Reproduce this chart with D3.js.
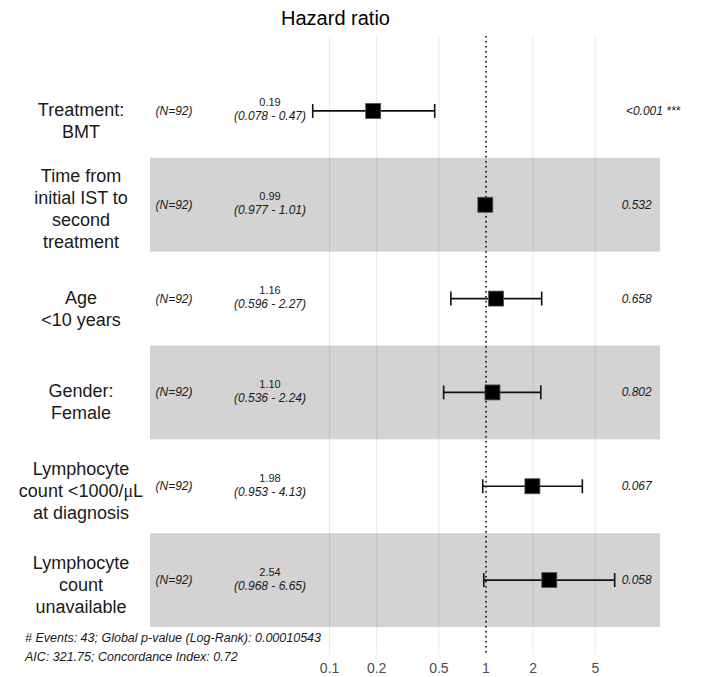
<!DOCTYPE html>
<html>
<head>
<meta charset="utf-8">
<script src="https://cdn.jsdelivr.net/npm/d3@7"></script>
<style>
  body { margin: 0; background: #fff; }
  text { font-family: "Liberation Sans", Arial, sans-serif; }
</style>
</head>
<body>
<svg id="chart" width="701" height="677"></svg>
<script>
// rows of the forest plot, top to bottom
const labels = [
  ["Treatment:", "BMT"],
  ["Time from", "initial IST to", "second", "treatment"],
  ["Age", "<10 years"],
  ["Gender:", "Female"],
  ["Lymphocyte", "count <1000/\u03bcL", "at diagnosis"],
  ["Lymphocyte", "count", "unavailable"]
];
const nObs = [92, 92, 92, 92, 92, 92];
const hr = [0.19, 0.99, 1.16, 1.10, 1.98, 2.54];
const hrText = ["0.19", "0.99", "1.16", "1.10", "1.98", "2.54"];
const ciLow = [0.078, 0.977, 0.596, 0.536, 0.953, 0.968];
const ciHigh = [0.47, 1.01, 2.27, 2.24, 4.13, 6.65];
const ciText = ["(0.078 - 0.47)", "(0.977 - 1.01)", "(0.596 - 2.27)", "(0.536 - 2.24)", "(0.953 - 4.13)", "(0.968 - 6.65)"];
const pLabels = ["<0.001 ***", "0.532 ", "0.658 ", "0.802 ", "0.067 ", "0.058 "];
const ticks = [0.1, 0.2, 0.5, 1, 2, 5];
const footnotes = [
  "# Events: 43; Global p-value (Log-Rank): 0.00010543",
  "AIC: 321.75; Concordance Index: 0.72"
];

const svg = d3.select("#chart");
const rows = d3.range(labels.length);

// log x scale, one decade = ~156.4px, HR 1 at x=486
const x = d3.scaleLog().domain([0.1, 1]).range([329.6, 486]);
const y = d3.scaleBand().domain(rows).range([64, 627]);
const yc = i => y(i) + y.bandwidth() / 2;
const gridTop = 36, gridBottom = 655;

// shaded bands on every other row
svg.selectAll("rect.band")
  .data(rows.filter(i => i % 2 === 1))
  .enter()
    .append("rect")
    .attr("class", "band")
    .attr("x", 150)
    .attr("y", i => y(i))
    .attr("width", 510)
    .attr("height", y.bandwidth())
    .attr("fill", "#d3d3d3");

// vertical grid lines
svg.selectAll("line.grid")
  .data(ticks)
  .enter()
    .append("line")
    .attr("class", "grid")
    .attr("x1", d => x(d)).attr("x2", d => x(d))
    .attr("y1", gridTop).attr("y2", gridBottom)
    .attr("stroke", "rgba(0,0,0,0.09)")
    .attr("stroke-width", 1);

// reference line at HR = 1
svg.append("line")
  .attr("x1", x(1)).attr("x2", x(1))
  .attr("y1", gridTop).attr("y2", gridBottom)
  .attr("stroke", "#000")
  .attr("stroke-width", 1.5)
  .attr("stroke-dasharray", "1.5,3.5");

// x axis tick labels
svg.selectAll("text.tick")
  .data(ticks)
  .enter()
    .append("text")
    .attr("class", "tick")
    .attr("x", d => x(d))
    .attr("y", 673)
    .attr("text-anchor", "middle")
    .attr("font-size", 14)
    .attr("fill", "#4d4d4d")
    .text(d => d);

// title
svg.append("text")
  .attr("x", 335.5).attr("y", 25)
  .attr("text-anchor", "middle")
  .attr("font-size", 20)
  .attr("fill", "#000")
  .text("Hazard ratio");

// row labels, multi line and centred
labels.forEach((lines, i) => {
  const lh = 22;
  const k = lines.length === 2 ? 16 : 10.5;
  const t = svg.append("text")
    .attr("x", 81)
    .attr("text-anchor", "middle")
    .attr("font-size", 18)
    .attr("fill", "#1a1a1a");
  lines.forEach((ln, j) => {
    const ts = t.append("tspan")
      .attr("x", 81)
      .attr("y", yc(i) - (lines.length - 1) * lh / 2 + j * lh + k);
    if (ln.includes("\u03bc")) {
      const parts = ln.split("\u03bc");
      ts.append("tspan").text(parts[0]);
      ts.append("tspan").attr("font-family", "Liberation Serif").text("\u03bc");
      ts.append("tspan").text(parts[1]);
    } else {
      ts.text(ln);
    }
  });
});

// N column
svg.selectAll("text.n")
  .data(rows)
  .enter()
    .append("text")
    .attr("class", "n")
    .attr("x", 174)
    .attr("y", i => yc(i) + 4)
    .attr("text-anchor", "middle")
    .attr("font-size", 12)
    .attr("font-style", "italic")
    .attr("fill", "#1a1a1a")
    .text(i => `(N=${nObs[i]})`);

// estimate + CI text (tightly stacked like the original)
svg.selectAll("text.est")
  .data(rows)
  .enter()
    .append("text")
    .attr("class", "est")
    .attr("x", 270)
    .attr("y", i => yc(i) - 4.5)
    .attr("text-anchor", "middle")
    .attr("font-size", 11)
    .attr("fill", "#1a1a1a")
    .text(i => hrText[i]);

svg.selectAll("text.ci")
  .data(rows)
  .enter()
    .append("text")
    .attr("class", "ci")
    .attr("x", 270)
    .attr("y", i => yc(i) + 9.5)
    .attr("text-anchor", "middle")
    .attr("font-size", 12)
    .attr("font-style", "italic")
    .attr("fill", "#1a1a1a")
    .text(i => ciText[i]);

// error bars
const cap = 7;
const eb = svg.selectAll("g.eb")
  .data(rows)
  .enter()
    .append("g")
    .attr("class", "eb")
    .attr("stroke", "#111")
    .attr("stroke-width", 1.6);
eb.append("line")
  .attr("x1", i => x(ciLow[i])).attr("x2", i => x(ciHigh[i]))
  .attr("y1", i => yc(i)).attr("y2", i => yc(i));
eb.append("line")
  .attr("x1", i => x(ciLow[i])).attr("x2", i => x(ciLow[i]))
  .attr("y1", i => yc(i) - cap).attr("y2", i => yc(i) + cap);
eb.append("line")
  .attr("x1", i => x(ciHigh[i])).attr("x2", i => x(ciHigh[i]))
  .attr("y1", i => yc(i) - cap).attr("y2", i => yc(i) + cap);

// point estimates
const sz = 15;
svg.selectAll("rect.pt")
  .data(rows)
  .enter()
    .append("rect")
    .attr("class", "pt")
    .attr("x", i => x(hr[i]) - sz / 2)
    .attr("y", i => yc(i) - sz / 2)
    .attr("width", sz)
    .attr("height", sz)
    .attr("fill", "#000")
    .attr("stroke", "#555")
    .attr("stroke-width", 0.8);

// p-values, left-justified with hjust = -0.2
svg.selectAll("text.p")
  .data(rows)
  .enter()
    .append("text")
    .attr("class", "p")
    .attr("x", 615)
    .attr("y", i => yc(i) + 4)
    .attr("font-size", 12)
    .attr("font-style", "italic")
    .attr("fill", "#1a1a1a")
    .attr("xml:space", "preserve")
    .style("white-space", "pre")
    .text(i => pLabels[i])
    .each(function() {
      const w = this.getComputedTextLength();
      d3.select(this).attr("x", 615 + 0.2 * w);
    });

// footnotes
svg.selectAll("text.foot")
  .data(footnotes)
  .enter()
    .append("text")
    .attr("class", "foot")
    .attr("x", 25)
    .attr("y", (d, i) => 642 + i * 19)
    .attr("font-size", 12.5)
    .attr("font-style", "italic")
    .attr("fill", "#1a1a1a")
    .text(d => d);
</script>
</body>
</html>
